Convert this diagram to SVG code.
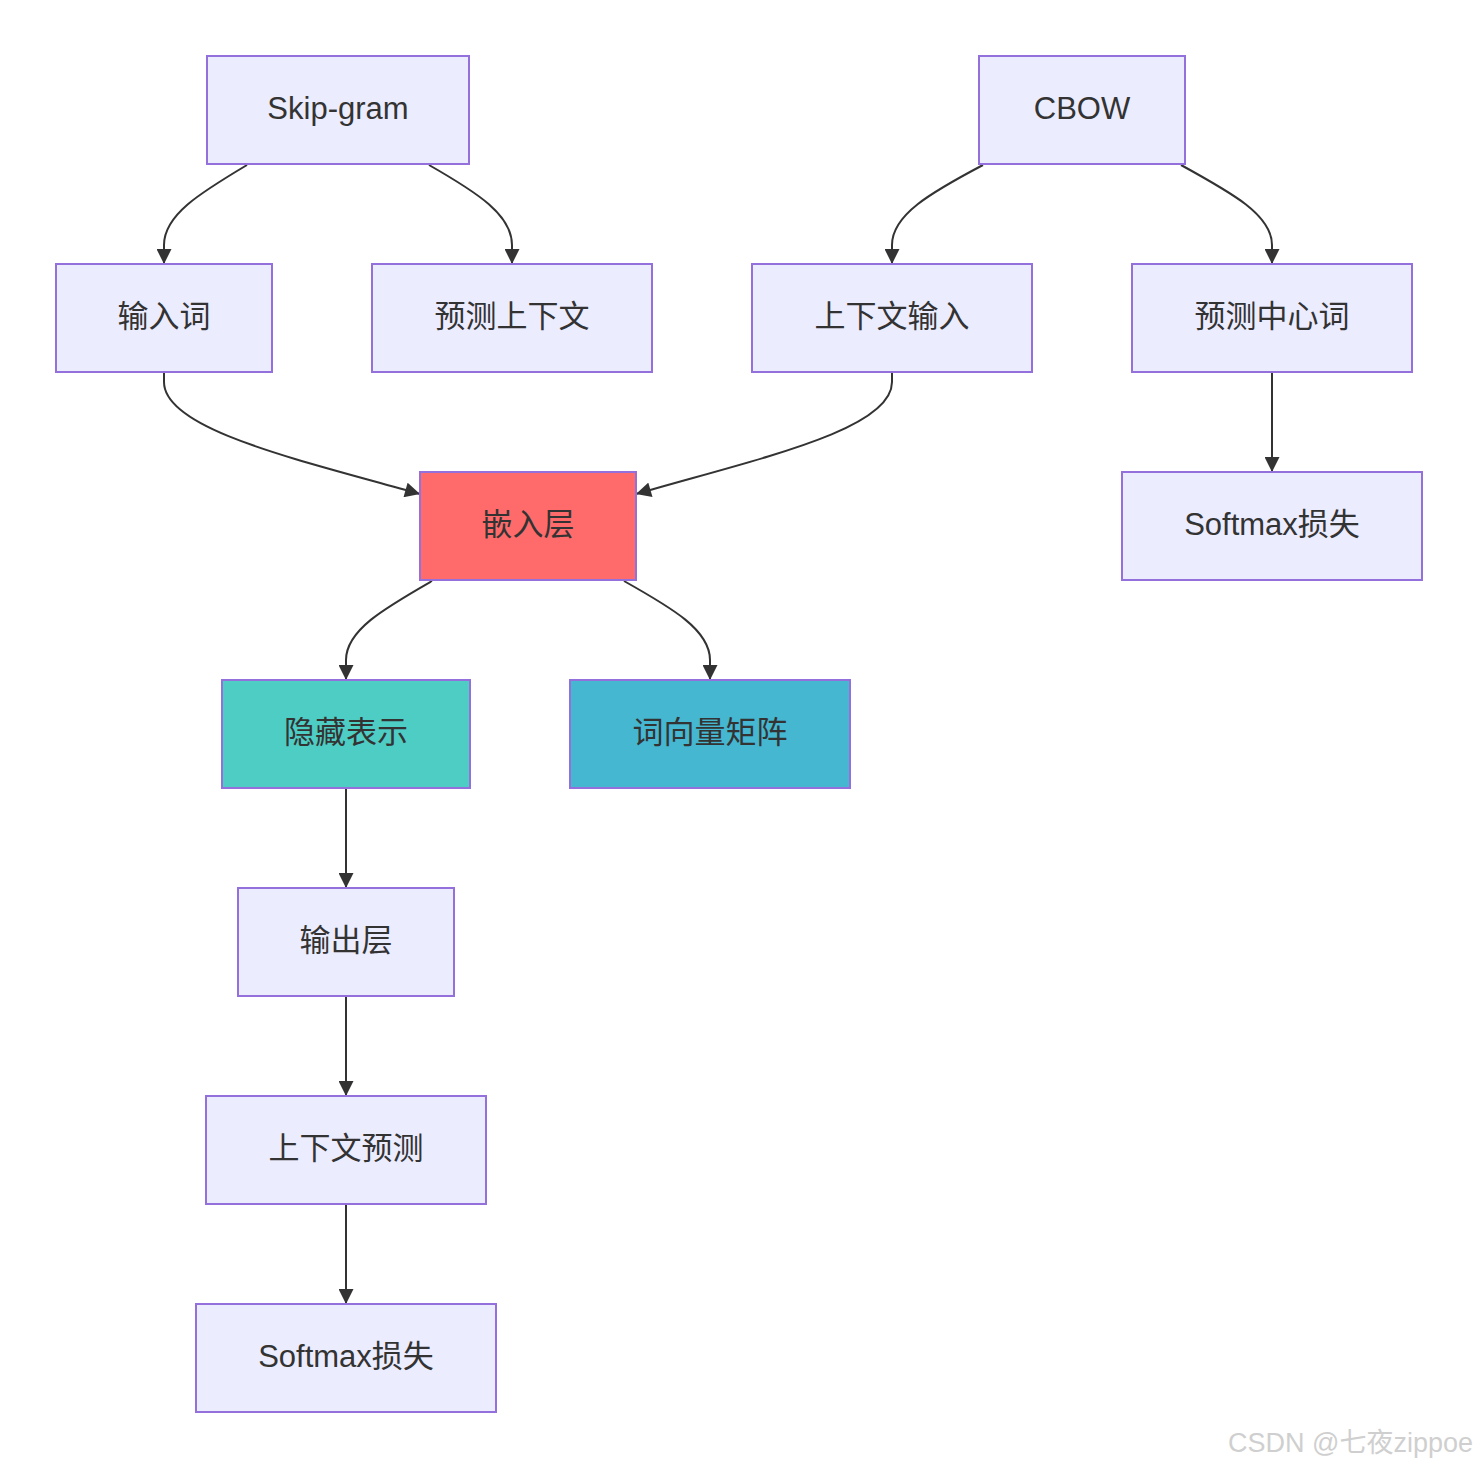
<svg xmlns="http://www.w3.org/2000/svg" width="1478" height="1468" viewBox="0 0 1478 1468">
<style>
.n rect{fill:#ECECFF;stroke:#9370DB;stroke-width:2}
.n text{font-family:"Liberation Sans","Noto Sans CJK SC",sans-serif;font-size:31px;fill:#333;text-anchor:middle;dominant-baseline:central}
.e path{fill:none;stroke:#333;stroke-width:2}
.wm{font-family:"Liberation Sans","Noto Sans CJK SC",sans-serif;font-size:27px;fill:#cfcfcf}
</style>
<defs>
<marker id="ah" viewBox="0 0 10 10" refX="10" refY="5" markerWidth="17" markerHeight="15" markerUnits="userSpaceOnUse" orient="auto">
<path d="M0,0 L10,5 L0,10 z" fill="#333"/>
</marker>
</defs>
<rect width="1478" height="1468" fill="#fff"/>
<g class="e">
<path d="M247,165 C200,193 164,215 164,245 L164,264" marker-end="url(#ah)"/>
<path d="M429,165 C478,193 512,215 512,245 L512,264" marker-end="url(#ah)"/>
<path d="M983,165 C930,193 892,215 892,245 L892,264" marker-end="url(#ah)"/>
<path d="M1181,165 C1232,193 1272,215 1272,245 L1272,264" marker-end="url(#ah)"/>
<path d="M164,373 L164,382 C164,430 300,460 420,494" marker-end="url(#ah)"/>
<path d="M892,373 L892,382 C892,430 760,458 636,494" marker-end="url(#ah)"/>
<path d="M1272,373 L1272,472" marker-end="url(#ah)"/>
<path d="M432,581 C385,608 346,630 346,660 L346,680" marker-end="url(#ah)"/>
<path d="M624,581 C672,608 710,630 710,660 L710,680" marker-end="url(#ah)"/>
<path d="M346,789 L346,888" marker-end="url(#ah)"/>
<path d="M346,997 L346,1096" marker-end="url(#ah)"/>
<path d="M346,1205 L346,1304" marker-end="url(#ah)"/>
</g>
<g id="skipgram" class="n"><rect x="207" y="56" width="262" height="108"/><text x="338" y="108">Skip-gram</text></g>
<g id="cbow" class="n"><rect x="979" y="56" width="206" height="108"/><text x="1082" y="108">CBOW</text></g>
<g id="input" class="n"><rect x="56" y="264" width="216" height="108"/><text x="164" y="316">输入词</text></g>
<g id="predctx" class="n"><rect x="372" y="264" width="280" height="108"/><text x="512" y="316">预测上下文</text></g>
<g id="ctxin" class="n"><rect x="752" y="264" width="280" height="108"/><text x="892" y="316">上下文输入</text></g>
<g id="predcenter" class="n"><rect x="1132" y="264" width="280" height="108"/><text x="1272" y="316">预测中心词</text></g>
<g id="embed" class="n"><rect x="420" y="472" width="216" height="108" style="fill:#FF6B6B"/><text x="528" y="524">嵌入层</text></g>
<g id="softmax2" class="n"><rect x="1122" y="472" width="300" height="108"/><text x="1272" y="524">Softmax损失</text></g>
<g id="hidden" class="n"><rect x="222" y="680" width="248" height="108" style="fill:#4ECDC4"/><text x="346" y="732">隐藏表示</text></g>
<g id="wordvec" class="n"><rect x="570" y="680" width="280" height="108" style="fill:#45B7D1"/><text x="710" y="732">词向量矩阵</text></g>
<g id="output" class="n"><rect x="238" y="888" width="216" height="108"/><text x="346" y="940">输出层</text></g>
<g id="ctxpred" class="n"><rect x="206" y="1096" width="280" height="108"/><text x="346" y="1148">上下文预测</text></g>
<g id="softmax1" class="n"><rect x="196" y="1304" width="300" height="108"/><text x="346" y="1356">Softmax损失</text></g>
<text class="wm" x="1228" y="1452">CSDN @七夜zippoe</text>
</svg>
